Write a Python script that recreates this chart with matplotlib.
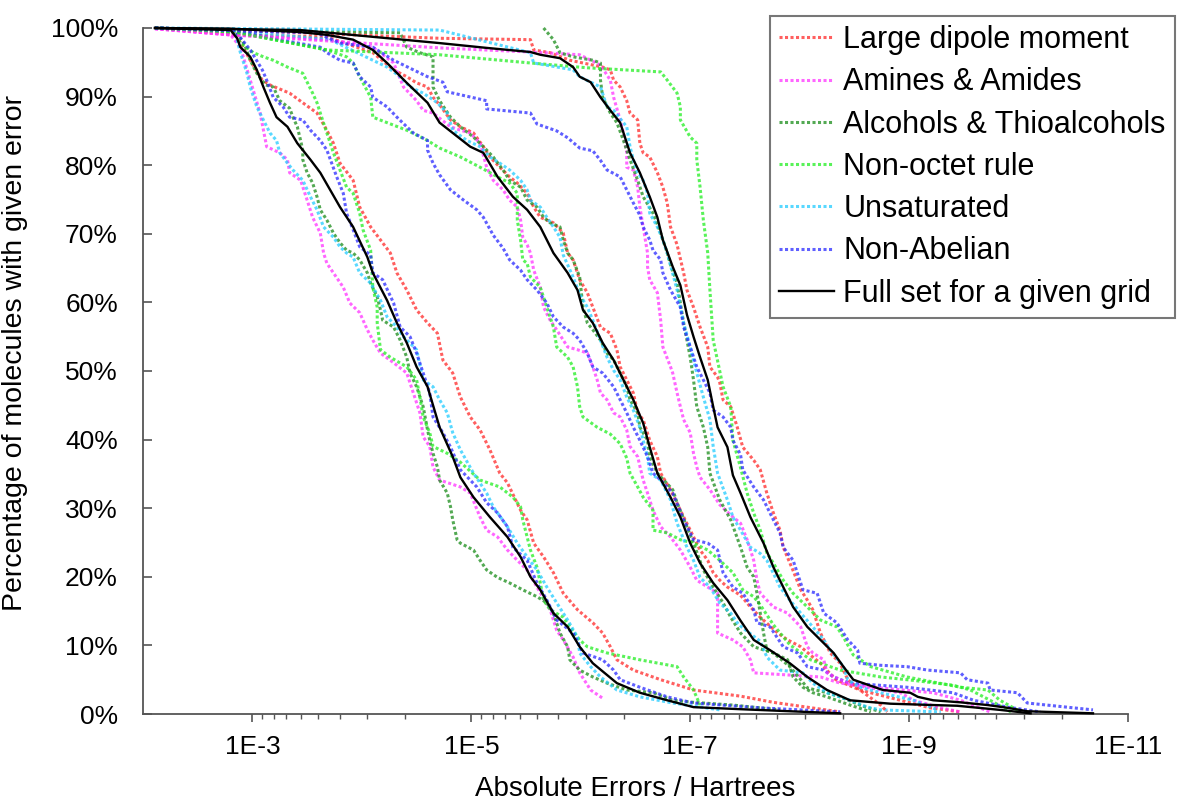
import numpy as np
import matplotlib
matplotlib.use("Agg")
import matplotlib.pyplot as plt
from matplotlib.lines import Line2D

plt.rcParams['font.family'] = ['Liberation Sans', 'DejaVu Sans']

# Each curve: (-log10 of absolute error / Hartree, % of molecules with at least that error)

# ---- coarse grid ----
coarse_dipole = [(2.11, 100), (2.84, 99.3), (2.98, 95.3), (3.09, 92.4), (3.16, 91.7), (3.34, 90.5), (3.46, 89.1),
                 (3.59, 87.6), (3.68, 85.1), (3.74, 83.2), (3.80, 80.3), (3.92, 77.8), (3.98, 73.9), (4.08, 71.0),
                 (4.17, 69.1), (4.26, 67.2), (4.32, 64.3), (4.41, 61.8), (4.50, 58.9), (4.60, 57.0), (4.69, 55.5),
                 (4.74, 51.6), (4.83, 49.7), (4.90, 46.2), (4.99, 43.3), (5.08, 41.4), (5.17, 38.5), (5.26, 35.1),
                 (5.33, 33.7), (5.45, 29.7), (5.51, 28.3), (5.57, 24.9), (5.66, 22.9), (5.75, 20.6), (5.84, 17.6),
                 (5.97, 15.2), (6.11, 13.3), (6.20, 11.8), (6.27, 9.8), (6.33, 7.9), (6.48, 6.4), (6.73, 5.0),
                 (7.03, 3.5), (7.46, 2.6), (7.76, 1.7), (8.37, 0.3)]
coarse_amines = [(2.11, 99.9), (2.80, 99.0), (2.89, 97.2), (2.98, 92.4), (3.07, 87.6), (3.13, 82.7), (3.25, 81.8),
                 (3.32, 80.8), (3.34, 78.9), (3.44, 77.8), (3.50, 74.9), (3.55, 72.4), (3.62, 70.1), (3.65, 67.2),
                 (3.68, 65.7), (3.74, 64.3), (3.83, 62.2), (3.89, 59.9), (3.98, 58.5), (4.05, 56.0), (4.10, 54.5),
                 (4.17, 52.6), (4.29, 51.2), (4.41, 49.7), (4.47, 46.8), (4.53, 43.9), (4.56, 40.4), (4.62, 39.0),
                 (4.65, 36.0), (4.71, 34.1), (4.90, 33.1), (4.99, 32.2), (5.08, 28.7), (5.14, 26.8), (5.24, 25.8),
                 (5.33, 23.9), (5.42, 22.4), (5.51, 21.0), (5.60, 18.5), (5.72, 15.2), (5.78, 12.2), (5.84, 10.8),
                 (5.93, 8.3), (5.99, 6.0), (6.09, 3.5), (6.20, 2.3)]
coarse_alcohols = [(2.11, 100), (2.84, 99.6), (2.93, 97.5), (2.98, 95.3), (3.04, 93.4), (3.12, 91.7), (3.19, 91.4),
                   (3.25, 89.4), (3.34, 88.3), (3.37, 87.0), (3.41, 85.6), (3.44, 83.6), (3.46, 82.2), (3.46, 80.8),
                   (3.50, 78.9), (3.55, 77.4), (3.59, 75.4), (3.62, 73.5), (3.68, 72.0), (3.74, 70.1), (3.80, 68.7),
                   (3.86, 67.6), (3.92, 67.2), (3.98, 66.2), (4.05, 64.3), (4.08, 62.8), (4.14, 60.8), (4.17, 58.9),
                   (4.19, 57.4), (4.29, 56.4), (4.35, 54.5), (4.41, 52.0), (4.44, 49.7), (4.50, 47.7), (4.56, 44.8),
                   (4.60, 41.4), (4.62, 39.9), (4.65, 38.0), (4.69, 36.0), (4.71, 34.1), (4.78, 32.2), (4.81, 30.2),
                   (4.83, 28.3), (4.87, 25.4), (4.90, 24.9), (5.02, 23.9), (5.08, 22.4), (5.14, 21.0), (5.24, 19.9),
                   (5.35, 19.1), (5.47, 18.1), (5.60, 17.1), (5.69, 16.2), (5.75, 14.7), (5.81, 11.8), (5.88, 9.8),
                   (5.90, 7.9), (5.99, 6.4), (6.11, 5.4), (6.24, 4.5), (6.42, 3.5), (6.66, 3.1), (6.84, 2.0),
                   (7.03, 1.7), (7.39, 1.3), (7.82, 0.6)]
coarse_nonoctet = [(2.11, 100), (2.84, 99.3), (2.89, 97.8), (3.01, 96.4), (3.10, 95.8), (3.19, 95.3), (3.32, 94.3),
                   (3.46, 93.4), (3.55, 90.5), (3.59, 89.1), (3.62, 87.6), (3.68, 84.7), (3.74, 81.8), (3.80, 79.3),
                   (3.86, 76.8), (3.92, 75.9), (3.98, 73.0), (4.01, 70.6), (4.08, 67.6), (4.10, 62.2), (4.14, 59.3),
                   (4.14, 57.0), (4.17, 53.1), (4.26, 52.0), (4.41, 50.6), (4.50, 48.7), (4.53, 46.2), (4.56, 43.3),
                   (4.62, 41.0), (4.65, 39.0), (4.78, 38.0), (4.90, 36.7), (5.08, 34.1), (5.26, 33.1), (5.38, 31.6),
                   (5.45, 30.2), (5.47, 28.3), (5.51, 25.8), (5.54, 23.9), (5.60, 21.4), (5.63, 19.1), (5.66, 16.6),
                   (5.72, 15.2), (5.84, 14.1), (5.90, 12.7), (5.99, 10.8), (6.06, 9.8), (6.24, 8.9), (6.54, 7.9),
                   (6.88, 6.9), (6.94, 5.4), (7.03, 3.5), (7.09, 1.3)]
coarse_unsaturated = [(2.11, 100), (2.84, 99.4), (2.89, 96.4), (2.95, 93.4), (2.98, 91.4), (3.04, 88.5), (3.10, 86.6),
                      (3.16, 84.7), (3.22, 83.6), (3.25, 81.8), (3.32, 80.3), (3.37, 79.3), (3.46, 77.8), (3.53, 75.4),
                      (3.59, 73.5), (3.65, 71.0), (3.74, 69.5), (3.80, 68.1), (3.86, 67.2), (3.92, 66.6), (3.98, 64.3),
                      (4.08, 62.8), (4.17, 60.3), (4.23, 57.9), (4.32, 56.4), (4.38, 55.0), (4.50, 53.1), (4.56, 48.7),
                      (4.65, 47.7), (4.71, 45.8), (4.78, 43.9), (4.83, 41.0), (4.90, 38.5), (5.02, 35.1), (5.14, 32.2),
                      (5.20, 30.2), (5.33, 27.3), (5.42, 24.9), (5.51, 22.9), (5.60, 21.0), (5.69, 18.5), (5.78, 16.2),
                      (5.88, 13.7), (5.97, 11.2), (5.99, 8.9), (6.09, 6.9), (6.18, 5.4), (6.33, 3.5), (6.54, 2.5),
                      (6.84, 1.6), (7.27, 0.6)]
coarse_nonabelian = [(2.11, 100), (2.84, 99.6), (2.98, 96.8), (3.09, 93.9), (3.13, 92.4), (3.19, 89.9), (3.28, 88.5),
                     (3.34, 87.0), (3.46, 86.6), (3.53, 85.1), (3.62, 83.6), (3.68, 82.2), (3.77, 78.3), (3.83, 75.9),
                     (3.86, 73.0), (3.92, 70.6), (3.98, 68.1), (4.08, 66.9), (4.10, 64.3), (4.19, 63.3), (4.29, 59.9),
                     (4.35, 56.4), (4.44, 55.0), (4.50, 52.6), (4.56, 49.7), (4.62, 46.8), (4.65, 43.3), (4.74, 41.0),
                     (4.81, 38.9), (4.90, 35.6), (5.05, 33.1), (5.14, 30.8), (5.24, 29.3), (5.33, 27.3), (5.38, 24.3),
                     (5.51, 22.4), (5.60, 19.1), (5.69, 16.6), (5.78, 13.7), (5.93, 11.8), (6.02, 8.9), (6.20, 7.9),
                     (6.30, 6.4), (6.36, 5.0), (6.54, 3.9), (6.79, 2.5), (7.03, 1.6), (7.64, 0.9), (8.37, 0.3)]
coarse_full = [(2.11, 100), (2.80, 99.7), (2.86, 98.5), (2.89, 97.2), (2.98, 95.8), (3.04, 93.9), (3.10, 91.4),
               (3.16, 89.1), (3.22, 87.0), (3.32, 85.6), (3.41, 83.2), (3.53, 80.8), (3.62, 78.9), (3.71, 76.4),
               (3.80, 73.9), (3.92, 71.0), (4.05, 66.6), (4.10, 64.3), (4.23, 60.3), (4.32, 57.0), (4.41, 54.1),
               (4.50, 50.6), (4.60, 47.7), (4.71, 41.8), (4.83, 37.5), (4.90, 34.5), (5.02, 31.6), (5.17, 28.7),
               (5.33, 25.8), (5.45, 22.9), (5.54, 20.0), (5.63, 18.1), (5.75, 14.7), (5.88, 12.7), (5.99, 9.8),
               (6.11, 7.4), (6.33, 4.5), (6.54, 3.1), (6.79, 2.0), (7.03, 1.0), (7.46, 0.7), (8.37, 0.1)]

# ---- medium grid ----
medium_dipole = [(2.11, 100), (2.86, 99.0), (3.68, 98.7), (4.10, 96.4), (4.29, 93.9), (4.41, 92.9), (4.50, 92.0),
                 (4.60, 91.4), (4.65, 89.9), (4.71, 88.8), (4.81, 86.6), (4.90, 85.6), (5.02, 84.7), (5.11, 82.7),
                 (5.17, 81.2), (5.26, 79.7), (5.35, 78.3), (5.42, 77.4), (5.51, 75.9), (5.57, 73.9), (5.63, 72.4),
                 (5.75, 71.6), (5.84, 70.1), (5.88, 67.2), (5.93, 66.2), (5.99, 63.3), (6.06, 61.4), (6.11, 59.3),
                 (6.18, 56.4), (6.27, 55.5), (6.33, 53.1), (6.36, 50.6), (6.42, 48.7), (6.48, 46.8), (6.52, 43.9),
                 (6.57, 42.9), (6.63, 39.9), (6.70, 37.5), (6.73, 35.1), (6.82, 32.7), (6.91, 29.7), (7.00, 26.8),
                 (7.09, 23.9), (7.16, 22.4), (7.21, 20.6), (7.27, 19.5), (7.34, 18.5), (7.46, 17.3), (7.55, 15.6),
                 (7.64, 14.1), (7.80, 11.8), (7.89, 10.8), (8.01, 9.8), (8.12, 8.3), (8.19, 7.4), (8.33, 5.0),
                 (8.55, 3.5), (8.92, 2.0), (9.19, 0.9), (9.47, 0.3)]
medium_amines = [(2.11, 99.9), (2.80, 99.0), (3.68, 98.3), (4.10, 97.2), (4.29, 94.9), (4.38, 91.4), (4.50, 89.4),
                 (4.56, 88.0), (4.65, 87.6), (4.81, 85.6), (4.90, 85.1), (4.99, 84.7), (5.08, 83.2), (5.14, 79.7),
                 (5.20, 77.8), (5.29, 76.4), (5.35, 74.9), (5.42, 73.9), (5.45, 72.0), (5.47, 69.5), (5.51, 68.4),
                 (5.54, 67.2), (5.57, 64.7), (5.63, 62.2), (5.66, 59.3), (5.72, 57.4), (5.78, 56.0), (5.84, 54.5),
                 (5.88, 53.5), (5.97, 53.1), (6.06, 52.6), (6.11, 50.6), (6.15, 48.7), (6.18, 46.8), (6.24, 45.8),
                 (6.30, 43.9), (6.36, 43.3), (6.42, 41.4), (6.45, 39.0), (6.52, 37.5), (6.57, 34.1), (6.61, 32.2),
                 (6.66, 29.7), (6.73, 27.3), (6.82, 25.8), (6.91, 23.9), (7.00, 21.4), (7.06, 19.5), (7.16, 18.5),
                 (7.25, 17.6), (7.25, 11.8), (7.39, 10.8), (7.48, 9.8), (7.55, 7.9), (7.58, 6.0), (8.19, 5.4),
                 (8.37, 4.5), (8.74, 3.8), (9.22, 3.1), (9.47, 2.0), (9.74, 0.3)]
medium_alcohols = [(2.11, 100), (2.84, 99.6), (4.35, 99.3), (4.41, 97.2), (4.53, 96.4), (4.65, 95.8), (4.65, 91.4),
                   (4.71, 89.4), (4.81, 87.0), (4.90, 85.6), (5.02, 84.1), (5.11, 82.7), (5.20, 81.2), (5.29, 79.3),
                   (5.35, 77.8), (5.45, 76.8), (5.51, 74.9), (5.60, 73.9), (5.66, 72.4), (5.72, 71.6), (5.81, 71.0),
                   (5.84, 69.1), (5.88, 67.2), (5.93, 66.2), (5.99, 63.7), (6.02, 59.3), (6.06, 57.0), (6.11, 56.0),
                   (6.18, 54.5), (6.24, 52.6), (6.30, 51.6), (6.36, 49.7), (6.42, 47.7), (6.45, 45.8), (6.52, 43.9),
                   (6.54, 41.8), (6.61, 39.9), (6.63, 37.5), (6.70, 35.1), (6.84, 32.7), (6.88, 30.8), (6.97, 27.3),
                   (7.03, 24.9), (7.12, 21.0), (7.21, 18.5), (7.30, 16.2), (7.37, 14.1), (7.46, 11.8), (7.58, 9.8),
                   (7.76, 8.9), (7.91, 6.9), (8.01, 5.0), (8.07, 3.8), (8.25, 3.1), (8.37, 2.5), (8.55, 1.3),
                   (8.74, 0.3)]
medium_nonoctet = [(2.11, 100), (2.84, 99.4), (3.68, 96.8), (3.86, 95.8), (3.92, 94.9), (3.98, 92.9), (4.08, 89.9),
                   (4.10, 87.0), (4.23, 86.2), (4.41, 85.1), (4.60, 83.6), (4.71, 82.5), (4.90, 81.2), (5.08, 79.7),
                   (5.24, 78.3), (5.35, 77.4), (5.42, 75.9), (5.42, 72.0), (5.45, 69.1), (5.47, 66.2), (5.51, 65.7),
                   (5.54, 63.7), (5.63, 62.2), (5.69, 59.3), (5.75, 56.4), (5.78, 53.5), (5.88, 52.0), (5.93, 50.6),
                   (5.97, 47.7), (5.99, 44.8), (6.02, 43.3), (6.15, 41.8), (6.27, 40.8), (6.36, 39.4), (6.42, 37.3),
                   (6.45, 35.1), (6.52, 33.1), (6.57, 31.6), (6.66, 29.7), (6.66, 26.8), (6.79, 26.4), (6.91, 25.4),
                   (7.03, 24.9), (7.16, 23.9), (7.27, 22.4), (7.39, 20.6), (7.48, 18.1), (7.58, 17.1), (7.64, 15.9),
                   (7.76, 13.0), (7.91, 10.1), (8.10, 7.9), (8.37, 6.4), (8.74, 5.4), (9.04, 4.9), (9.40, 4.2),
                   (9.56, 3.5), (9.74, 2.0), (9.93, 0.3)]
medium_unsaturated = [(2.11, 100), (2.84, 99.6), (3.71, 98.3), (4.23, 94.3), (4.35, 92.9), (4.44, 91.4), (4.56, 90.5),
                      (4.69, 89.1), (4.78, 87.6), (4.83, 85.1), (4.96, 83.6), (5.08, 82.7), (5.17, 81.2), (5.26, 80.3),
                      (5.35, 79.3), (5.45, 77.8), (5.51, 76.4), (5.54, 74.9), (5.63, 73.9), (5.69, 72.4), (5.75, 71.0),
                      (5.81, 69.5), (5.84, 66.9), (5.93, 63.7), (5.99, 61.2), (6.06, 59.3), (6.11, 57.4), (6.18, 54.5),
                      (6.24, 52.0), (6.30, 50.1), (6.36, 48.7), (6.42, 46.2), (6.48, 44.3), (6.54, 41.8), (6.57, 39.9),
                      (6.61, 37.5), (6.63, 35.1), (6.73, 34.1), (6.82, 31.2), (6.88, 27.8), (6.97, 24.3), (7.03, 22.4),
                      (7.09, 19.9), (7.18, 18.5), (7.27, 16.2), (7.37, 14.7), (7.43, 13.3), (7.46, 12.8), (7.64, 10.6),
                      (7.70, 8.3), (7.82, 6.4), (8.03, 6.0), (8.12, 4.5), (8.25, 3.1), (8.46, 2.0), (8.62, 1.0),
                      (8.74, 0.6), (9.29, 0.3)]
medium_nonabelian = [(2.11, 100), (2.84, 99.6), (3.25, 98.3), (3.62, 97.2), (3.68, 96.4), (3.80, 95.3), (3.92, 94.9),
                     (3.98, 92.9), (4.08, 91.4), (4.10, 89.9), (4.23, 88.5), (4.32, 87.0), (4.41, 85.6), (4.47, 84.7),
                     (4.60, 83.6), (4.60, 82.2), (4.65, 80.3), (4.71, 78.6), (4.81, 76.4), (4.93, 74.9), (5.05, 73.5),
                     (5.11, 72.4), (5.20, 69.8), (5.29, 67.9), (5.35, 66.2), (5.45, 64.7), (5.51, 63.3), (5.60, 61.8),
                     (5.69, 59.9), (5.75, 57.9), (5.84, 56.4), (5.93, 55.5), (5.99, 54.5), (6.06, 52.6), (6.11, 50.6),
                     (6.20, 49.7), (6.30, 47.7), (6.36, 45.8), (6.42, 43.9), (6.48, 41.8), (6.54, 39.9), (6.61, 37.5),
                     (6.66, 35.1), (6.73, 34.1), (6.84, 32.2), (6.94, 28.3), (7.03, 25.4), (7.16, 24.9), (7.25, 23.9),
                     (7.30, 20.6), (7.39, 18.5), (7.48, 17.6), (7.58, 15.2), (7.61, 13.3), (7.73, 12.7), (7.85, 9.8),
                     (7.98, 8.9), (8.07, 6.9), (8.22, 6.4), (8.31, 5.4), (8.46, 4.5), (8.98, 3.9), (9.40, 3.1),
                     (9.59, 2.0), (9.90, 1.0), (10.20, 0.3)]
medium_full = [(2.11, 100), (2.80, 99.9), (3.44, 99.4), (3.68, 99.0), (3.92, 98.3), (4.10, 96.8), (4.23, 94.9),
               (4.41, 92.0), (4.60, 89.1), (4.71, 86.2), (4.83, 84.7), (4.99, 82.7), (5.11, 81.8), (5.24, 78.3),
               (5.38, 75.4), (5.51, 73.5), (5.63, 71.0), (5.75, 67.2), (5.88, 64.3), (5.97, 61.8), (6.02, 58.9),
               (6.11, 57.0), (6.20, 54.1), (6.30, 51.6), (6.39, 48.7), (6.48, 45.8), (6.57, 42.4), (6.63, 38.9),
               (6.70, 35.1), (6.82, 31.6), (6.91, 28.7), (7.00, 24.9), (7.09, 22.0), (7.21, 19.1), (7.34, 16.6),
               (7.46, 13.6), (7.58, 10.8), (7.73, 9.3), (7.91, 7.4), (8.07, 5.4), (8.25, 3.5), (8.46, 2.0),
               (8.83, 1.5), (9.44, 1.2), (9.83, 0.6), (10.11, 0.1)]

# ---- fine grid ----
fine_dipole = [(2.11, 100), (2.84, 99.7), (4.71, 98.5), (5.54, 98.3), (5.57, 96.8), (5.72, 96.4), (5.90, 95.3),
               (6.20, 94.3), (6.27, 93.9), (6.30, 92.4), (6.36, 91.4), (6.42, 89.4), (6.45, 87.6), (6.52, 86.6),
               (6.54, 83.2), (6.57, 81.8), (6.63, 81.2), (6.70, 78.9), (6.75, 76.8), (6.79, 74.5), (6.82, 71.0),
               (6.88, 68.4), (6.94, 64.3), (6.97, 61.8), (7.03, 59.3), (7.09, 56.4), (7.16, 53.5), (7.18, 50.6),
               (7.25, 49.1), (7.27, 48.3), (7.30, 45.8), (7.37, 44.8), (7.43, 41.8), (7.48, 38.9), (7.58, 37.0),
               (7.64, 35.6), (7.70, 32.2), (7.76, 29.3), (7.82, 26.8), (7.85, 24.3), (7.94, 20.9), (8.01, 18.1),
               (8.07, 16.6), (8.12, 15.2), (8.19, 11.8), (8.28, 8.9), (8.37, 7.4), (8.44, 5.0), (8.55, 3.5),
               (8.74, 1.3), (8.80, 0.3)]
fine_amines = [(2.11, 99.9), (2.80, 99.0), (4.71, 97.1), (5.54, 96.5), (5.99, 96.1), (6.18, 94.6), (6.27, 92.4),
               (6.30, 89.9), (6.36, 86.6), (6.39, 84.7), (6.42, 81.8), (6.42, 79.7), (6.48, 79.3), (6.52, 76.8),
               (6.54, 73.9), (6.57, 71.0), (6.61, 67.2), (6.61, 65.2), (6.63, 63.3), (6.70, 61.4), (6.73, 57.4),
               (6.75, 53.5), (6.82, 50.6), (6.84, 49.7), (6.88, 46.8), (6.91, 44.8), (6.94, 42.9), (7.00, 41.0),
               (7.03, 38.0), (7.06, 36.0), (7.09, 34.5), (7.18, 32.7), (7.27, 30.5), (7.37, 29.0), (7.46, 27.8),
               (7.52, 25.4), (7.58, 22.4), (7.61, 19.5), (7.64, 17.6), (7.76, 15.6), (7.89, 14.7), (8.01, 12.7),
               (8.07, 9.8), (8.12, 8.9), (8.22, 7.9), (8.25, 6.0), (8.37, 5.0), (8.49, 4.2), (8.76, 3.5),
               (8.92, 3.1), (9.04, 2.0), (9.29, 0.9), (9.47, 0.3)]
fine_alcohols = [(5.66, 100), (5.75, 98.3), (5.81, 96.4), (5.93, 95.8), (6.11, 95.3), (6.18, 94.9), (6.18, 92.4),
                 (6.20, 89.9), (6.27, 87.6), (6.33, 86.2), (6.39, 83.6), (6.45, 80.8), (6.52, 77.8), (6.57, 75.4),
                 (6.66, 73.0), (6.73, 70.1), (6.79, 67.2), (6.82, 65.5), (6.88, 62.8), (6.94, 57.0), (7.00, 52.0),
                 (7.03, 48.7), (7.06, 44.8), (7.12, 41.8), (7.16, 38.9), (7.18, 35.1), (7.27, 31.2), (7.37, 28.3),
                 (7.46, 24.3), (7.52, 21.4), (7.58, 20.0), (7.61, 17.6), (7.64, 14.7), (7.67, 11.8), (7.70, 9.3),
                 (7.76, 8.9), (7.89, 7.9), (7.94, 5.4), (8.03, 3.9), (8.12, 3.1), (8.25, 2.5), (8.46, 1.3),
                 (8.65, 0.3)]
fine_nonoctet = [(2.11, 100), (2.84, 99.4), (3.68, 96.8), (4.71, 96.1), (5.54, 94.9), (6.06, 94.2), (6.73, 93.6),
                 (6.79, 92.4), (6.88, 90.5), (6.91, 88.5), (6.91, 86.6), (7.00, 84.1), (7.06, 83.2), (7.06, 80.8),
                 (7.09, 76.8), (7.12, 72.0), (7.16, 67.2), (7.18, 61.8), (7.21, 54.5), (7.30, 47.7), (7.37, 44.8),
                 (7.39, 39.9), (7.46, 35.9), (7.52, 32.2), (7.58, 29.3), (7.64, 26.8), (7.70, 23.5), (7.76, 22.0),
                 (7.85, 19.5), (7.94, 17.6), (8.07, 15.6), (8.19, 13.7), (8.34, 12.7), (8.40, 11.2), (8.49, 8.6),
                 (8.65, 6.9), (8.98, 5.4), (9.47, 3.9), (9.72, 3.5), (9.83, 2.0), (10.02, 0.3)]
fine_unsaturated = [(2.11, 100), (4.71, 99.7), (5.54, 96.4), (5.57, 94.9), (5.93, 93.9), (5.99, 92.9), (6.18, 91.4),
                    (6.24, 88.5), (6.30, 88.0), (6.42, 85.6), (6.45, 82.7), (6.48, 80.8), (6.52, 78.9), (6.57, 77.8),
                    (6.61, 75.9), (6.63, 73.0), (6.70, 71.0), (6.75, 69.1), (6.79, 67.2), (6.88, 61.8), (6.94, 57.0),
                    (7.00, 53.5), (7.06, 49.7), (7.12, 46.2), (7.18, 42.9), (7.21, 39.0), (7.25, 35.1), (7.34, 31.2),
                    (7.39, 28.7), (7.46, 26.8), (7.55, 24.3), (7.64, 23.4), (7.70, 22.4), (7.76, 20.5), (7.82, 18.5),
                    (7.91, 16.6), (8.01, 14.7), (8.12, 12.7), (8.22, 10.8), (8.28, 9.3), (8.40, 6.9), (8.44, 5.0),
                    (8.55, 3.9), (8.74, 3.1), (9.04, 2.0), (9.26, 0.6)]
fine_nonabelian = [(2.11, 100), (2.84, 99.6), (3.59, 99.3), (3.80, 97.8), (4.10, 97.2), (4.29, 95.3), (4.60, 92.9),
                   (4.74, 92.1), (4.78, 90.7), (5.14, 89.4), (5.14, 88.2), (5.54, 87.6), (5.60, 86.0), (5.78, 85.0),
                   (5.88, 84.0), (5.99, 82.5), (6.11, 82.1), (6.18, 80.7), (6.24, 79.3), (6.36, 78.3), (6.42, 76.4),
                   (6.48, 74.5), (6.54, 72.7), (6.57, 71.0), (6.63, 69.1), (6.66, 67.6), (6.73, 66.2), (6.75, 64.3),
                   (6.82, 61.8), (6.91, 59.3), (6.94, 56.4), (7.00, 53.5), (7.06, 50.6), (7.12, 48.7), (7.18, 46.8),
                   (7.21, 44.3), (7.30, 43.3), (7.37, 41.8), (7.39, 39.9), (7.46, 37.8), (7.48, 35.6), (7.58, 33.1),
                   (7.67, 31.2), (7.76, 28.3), (7.82, 26.4), (7.85, 24.3), (7.94, 22.4), (7.98, 20.5), (8.03, 18.1),
                   (8.16, 17.6), (8.22, 14.7), (8.34, 13.3), (8.44, 10.8), (8.53, 9.3), (8.55, 7.4), (8.74, 7.1),
                   (8.98, 6.9), (9.17, 6.4), (9.47, 6.0), (9.53, 5.0), (9.72, 4.5), (9.74, 3.5), (9.99, 3.1),
                   (10.08, 1.6), (10.68, 0.6)]
fine_full = [(2.11, 100), (3.44, 99.7), (4.71, 97.8), (5.14, 97.1), (5.54, 96.5), (5.63, 96.1), (5.81, 95.6),
             (5.93, 94.3), (5.99, 92.9), (6.09, 92.1), (6.18, 89.9), (6.27, 88.0), (6.36, 86.2), (6.45, 81.8),
             (6.54, 78.9), (6.63, 75.4), (6.70, 72.4), (6.75, 69.1), (6.84, 65.2), (6.91, 62.5), (6.97, 58.2),
             (7.03, 55.0), (7.09, 52.0), (7.16, 48.7), (7.21, 44.8), (7.25, 41.8), (7.34, 38.9), (7.39, 34.8),
             (7.46, 32.2), (7.55, 28.7), (7.67, 24.9), (7.76, 21.4), (7.85, 18.5), (7.94, 15.6), (8.07, 12.7),
             (8.19, 10.8), (8.31, 8.9), (8.40, 6.9), (8.49, 5.0), (8.58, 4.5), (8.76, 3.5), (9.01, 3.1),
             (9.08, 2.5), (9.22, 2.0), (9.47, 1.7), (9.72, 1.3), (9.90, 0.9), (10.08, 0.4), (10.68, 0.1)]

categories = ["Large dipole moment", "Amines & Amides", "Alcohols & Thioalcohols",
              "Non-octet rule", "Unsaturated", "Non-Abelian"]
full_label = "Full set for a given grid"
category_colors = ["#ff2a2a", "#ff33ff", "#1a8c1a", "#22ee22", "#22ccff", "#2a2aff"]

grids = [
    [coarse_dipole, coarse_amines, coarse_alcohols, coarse_nonoctet, coarse_unsaturated, coarse_nonabelian, coarse_full],
    [medium_dipole, medium_amines, medium_alcohols, medium_nonoctet, medium_unsaturated, medium_nonabelian, medium_full],
    [fine_dipole, fine_amines, fine_alcohols, fine_nonoctet, fine_unsaturated, fine_nonabelian, fine_full],
]

W, H = 1177, 800
fig = plt.figure(figsize=(W / 100, H / 100), dpi=100)
ax = fig.add_axes([143 / W, 1 - 714 / H, (1128 - 143) / W, (714 - 28) / H])

dotted = dict(linestyle=(0, (1.0, 0.8)), linewidth=2.2, alpha=0.75, dash_capstyle="butt")

for series in grids:
    for curve, color in zip(series[:6], category_colors):
        e, p = np.array(curve).T
        ax.plot(10.0 ** (-e), p, color=color, clip_on=False, zorder=2, **dotted)
for series in grids:
    e, p = np.array(series[6]).T
    ax.plot(10.0 ** (-e), p, color="black", linewidth=1.7, clip_on=False, zorder=3)

ax.set_xscale("log")
ax.set_xlim(1e-2, 1e-11)
ax.set_ylim(0, 100)

major = [1e-3, 1e-5, 1e-7, 1e-9, 1e-11]
minor = [m * k ** 2 for m in major[1:] for k in range(2, 10)]
ax.set_xticks(major)
ax.set_xticklabels(["1E-3", "1E-5", "1E-7", "1E-9", "1E-11"])
ax.set_xticks(minor, minor=True)
ax.xaxis.set_minor_formatter(matplotlib.ticker.NullFormatter())

yt = list(range(0, 101, 10))
ax.set_yticks(yt)
ax.set_yticklabels([f"{v}%" for v in yt])

axis_color = "#555555"
for side in ("top", "right"):
    ax.spines[side].set_visible(False)
for side in ("left", "bottom"):
    ax.spines[side].set_color(axis_color)
    ax.spines[side].set_linewidth(1.3)

ax.tick_params(axis="y", direction="in", length=6.5, width=1.2, color=axis_color,
               labelsize=19, pad=18)
ax.tick_params(axis="x", which="major", direction="out", length=6, width=1.2, color=axis_color,
               labelsize=19, pad=9)
ax.tick_params(axis="x", which="minor", direction="out", length=3.5, width=1.0, color=axis_color)

ax.set_xlabel("Absolute Errors / Hartrees", fontsize=20)
ax.set_ylabel("Percentage of molecules with given error", fontsize=20.5)
ax.xaxis.set_label_coords(0.5, -0.09)
ax.yaxis.set_label_coords(-0.117, 0.526)

handles = [Line2D([], [], color=c, **dotted) for c in category_colors]
handles.append(Line2D([], [], color="black", linewidth=1.7))
leg = ax.legend(handles, categories + [full_label], loc="upper right",
                bbox_to_anchor=(1175 / W, 1 - 16 / H), bbox_transform=fig.transFigure,
                fontsize=22, frameon=True, fancybox=False, edgecolor=axis_color,
                handlelength=1.8, handletextpad=0.3, borderpad=0.3, labelspacing=0.4,
                borderaxespad=0)
leg.get_frame().set_linewidth(1.5)

fig.savefig("out.png", dpi=100)
